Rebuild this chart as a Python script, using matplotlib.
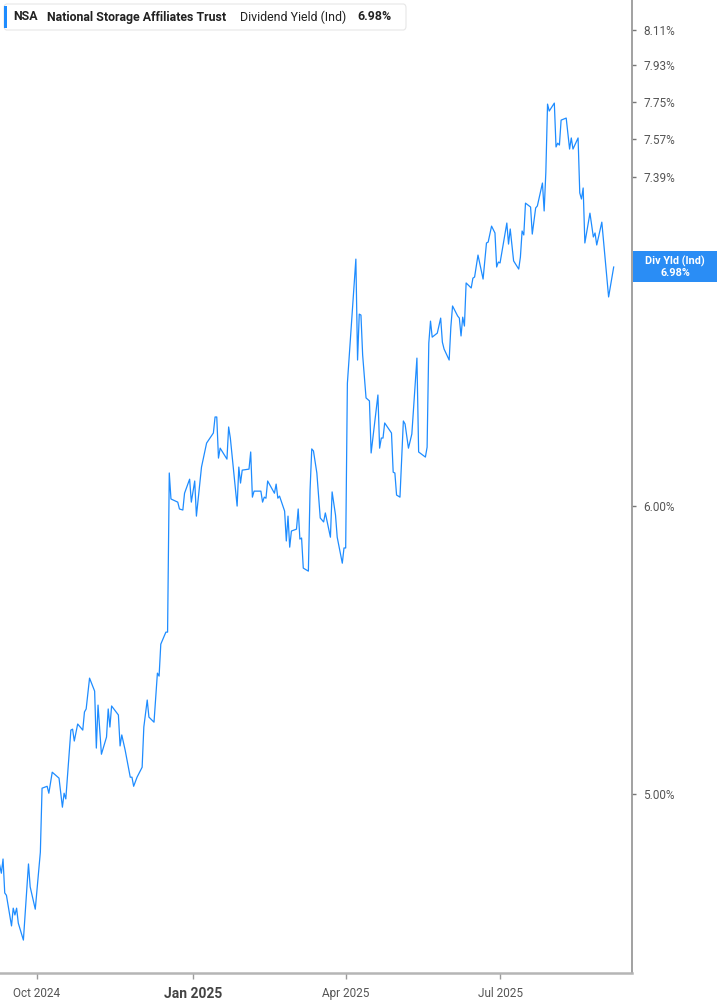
import matplotlib
matplotlib.use('Agg')
import matplotlib.pyplot as plt
from matplotlib.patches import FancyBboxPatch, Rectangle
from matplotlib.ticker import NullLocator
import pandas as pd

# dividend yield (%)
dates = """
2024-09-09 2024-09-10 2024-09-11 2024-09-12 2024-09-13 2024-09-16 2024-09-17 2024-09-18
2024-09-19 2024-09-20 2024-09-23 2024-09-26 2024-09-27 2024-09-30 2024-10-03 2024-10-04
2024-10-07 2024-10-08 2024-10-10 2024-10-14 2024-10-16 2024-10-17 2024-10-18 2024-10-21
2024-10-22 2024-10-23 2024-10-25 2024-10-28 2024-10-29 2024-10-30 2024-11-01 2024-11-04
2024-11-05 2024-11-06 2024-11-08 2024-11-11 2024-11-12 2024-11-13 2024-11-14 2024-11-18
2024-11-19 2024-11-20 2024-11-22 2024-11-25 2024-11-26 2024-11-27 2024-11-29 2024-12-02
2024-12-03 2024-12-05 2024-12-06 2024-12-09 2024-12-11 2024-12-12 2024-12-13 2024-12-16
2024-12-17 2024-12-18 2024-12-19 2024-12-23 2024-12-24 2024-12-26 2024-12-27 2024-12-30
2024-12-31 2025-01-02 2025-01-03 2025-01-06 2025-01-09 2025-01-13 2025-01-14 2025-01-15
2025-01-16 2025-01-17 2025-01-21 2025-01-22 2025-01-23 2025-01-27 2025-01-28 2025-01-29
2025-01-30 2025-02-03 2025-02-04 2025-02-05 2025-02-06 2025-02-10 2025-02-11 2025-02-12
2025-02-13 2025-02-14 2025-02-18 2025-02-19 2025-02-20 2025-02-21 2025-02-24 2025-02-25
2025-02-26 2025-02-27 2025-02-28 2025-03-03 2025-03-04 2025-03-05 2025-03-06 2025-03-07
2025-03-10 2025-03-11 2025-03-12 2025-03-13 2025-03-15 2025-03-17 2025-03-19 2025-03-20
2025-03-23 2025-03-24 2025-03-26 2025-03-27 2025-03-30 2025-03-31 2025-04-01 2025-04-02
2025-04-04 2025-04-07 2025-04-08 2025-04-09 2025-04-10 2025-04-11 2025-04-12 2025-04-13
2025-04-15 2025-04-16 2025-04-20 2025-04-21 2025-04-22 2025-04-23 2025-04-24 2025-04-26
2025-04-28 2025-04-29 2025-04-30 2025-05-01 2025-05-03 2025-05-05 2025-05-06 2025-05-08
2025-05-10 2025-05-13 2025-05-14 2025-05-18 2025-05-19 2025-05-20 2025-05-21 2025-05-22
2025-05-25 2025-05-27 2025-05-28 2025-05-29 2025-06-01 2025-06-02 2025-06-03 2025-06-06
2025-06-07 2025-06-08 2025-06-09 2025-06-10 2025-06-11 2025-06-14 2025-06-15 2025-06-16
2025-06-18 2025-06-21 2025-06-23 2025-06-24 2025-06-26 2025-06-28 2025-06-29 2025-06-30
2025-07-01 2025-07-05 2025-07-06 2025-07-07 2025-07-09 2025-07-12 2025-07-13 2025-07-14
2025-07-15 2025-07-16 2025-07-19 2025-07-20 2025-07-22 2025-07-23 2025-07-26 2025-07-27
2025-07-28 2025-07-29 2025-07-30 2025-08-02 2025-08-03 2025-08-04 2025-08-05 2025-08-06
2025-08-09 2025-08-11 2025-08-12 2025-08-13 2025-08-16 2025-08-17 2025-08-18 2025-08-19
2025-08-20 2025-08-23 2025-08-25 2025-08-26 2025-08-27 2025-08-30 2025-09-03 2025-09-06
""".split()

yields = [
    4.781, 4.756, 4.799, 4.697, 4.690, 4.600, 4.652, 4.632,
    4.652, 4.608, 4.559, 4.784, 4.715, 4.649, 4.820, 5.019,
    5.025, 5.003, 5.070, 5.051, 4.959, 5.003, 4.985, 5.207,
    5.210, 5.171, 5.227, 5.207, 5.267, 5.277, 5.381, 5.337,
    5.148, 5.290, 5.128, 5.184, 5.277, 5.217, 5.287, 5.257,
    5.155, 5.191, 5.141, 5.054, 5.054, 5.025, 5.054, 5.086,
    5.217, 5.307, 5.250, 5.233, 5.398, 5.388, 5.498, 5.540,
    5.540, 6.127, 6.027, 6.015, 5.989, 5.985, 6.049, 6.103,
    6.015, 6.096, 5.962, 6.150, 6.244, 6.284, 6.348, 6.348,
    6.185, 6.224, 6.181, 6.308, 6.264, 6.000, 6.150, 6.088,
    6.138, 6.142, 6.209, 6.034, 6.057, 6.057, 6.015, 6.034,
    6.030, 6.096, 6.049, 6.084, 6.030, 6.038, 5.981, 5.869,
    5.962, 5.846, 5.906, 5.913, 5.989, 5.876, 5.880, 5.769,
    5.758, 6.061, 6.221, 6.213, 6.127, 5.955, 5.940, 5.974,
    5.883, 6.054, 5.966, 5.883, 5.787, 5.843, 5.843, 6.485,
    6.694, 7.015, 6.581, 6.775, 6.771, 6.602, 6.510, 6.425,
    6.413, 6.205, 6.437, 6.224, 6.264, 6.264, 6.324, 6.304,
    6.284, 6.130, 6.127, 6.042, 6.034, 6.332, 6.320, 6.224,
    6.280, 6.589, 6.209, 6.189, 6.228, 6.652, 6.745, 6.677,
    6.694, 6.758, 6.656, 6.627, 6.581, 6.720, 6.810, 6.767,
    6.758, 6.682, 6.762, 6.724, 6.910, 6.888, 6.931, 6.936,
    7.033, 6.927, 7.087, 7.091, 7.163, 7.132, 6.980, 7.002,
    6.998, 7.177, 7.082, 7.150, 7.007, 6.971, 7.024, 7.141,
    7.123, 7.268, 7.250, 7.127, 7.246, 7.255, 7.361, 7.232,
    7.412, 7.738, 7.704, 7.743, 7.531, 7.549, 7.540, 7.660,
    7.670, 7.521, 7.574, 7.521, 7.574, 7.315, 7.287, 7.338,
    7.087, 7.222, 7.114, 7.132, 7.078, 7.181, 6.849, 6.980,
]

ytick_vals = [5.00, 6.00, 7.39, 7.57, 7.75, 7.93, 8.11]
xtick_dates = ['2024-10-01', '2025-01-01', '2025-04-01', '2025-07-01']
xtick_labels = ['Oct 2024', 'Jan 2025', 'Apr 2025', 'Jul 2025']

ticker = 'NSA'
company = 'National Storage Affiliates Trust'
metric = 'Dividend Yield (Ind)'
last_label = 'Div Yld (Ind)'

W, H = 717, 1005
blue = '#1e8cff'
grey = '#9a9a9a'

plt.rcParams['font.family'] = ['Roboto', 'DejaVu Sans']

fig = plt.figure(figsize=(W / 100, H / 100), dpi=100)
ax = fig.add_axes([0, 32 / H, 632 / W, 973 / H])

x = pd.to_datetime(dates)
ax.plot(x, yields, color=blue, lw=0.9)

ax.set_yscale('log')
ax.set_ylim(4.465, 8.265)
ax.set_xlim(pd.Timestamp('2024-09-09 05:00'), pd.Timestamp('2025-09-16 19:00'))

ax.yaxis.tick_right()
ax.yaxis.set_minor_locator(NullLocator())
ax.set_yticks(ytick_vals)
ax.set_yticklabels([f'{v:.2f}%' for v in ytick_vals])
ax.tick_params(axis='y', direction='out', length=3, width=1, color='#777777',
               labelcolor='#555555', labelsize=8.5, pad=5)

ax.set_xticks(pd.to_datetime(xtick_dates))
ax.set_xticklabels(xtick_labels)
ax.tick_params(axis='x', direction='out', length=4, width=1, color=grey,
               labelcolor='#555555', labelsize=8.5, pad=6)
for lab in ax.get_xticklabels():
    lab.set_family(['Liberation Sans Narrow', 'Roboto'])
    if lab.get_text() == 'Jan 2025':
        lab.set_fontweight('bold')
        lab.set_fontsize(10)
        lab.set_color('#444444')

for s in ['left', 'top']:
    ax.spines[s].set_visible(False)
ax.spines['right'].set_color(grey)
ax.spines['right'].set_linewidth(1.3)
ax.spines['bottom'].set_color('#b5b5b5')
ax.spines['bottom'].set_linewidth(1.8)


def fx(px):
    return px / W


def fy(py):
    return 1 - py / H


# header box
fig.patches.append(FancyBboxPatch((fx(4), fy(30)), fx(402), 26 / H,
                                  boxstyle='round,pad=0,rounding_size=0.004',
                                  transform=fig.transFigure, fc='white',
                                  ec='#e6e6e6', lw=0.8, zorder=5))
fig.patches.append(Rectangle((fx(4), fy(28)), fx(3), 22 / H, transform=fig.transFigure,
                             fc=blue, ec='none', zorder=6))
hy = fy(17)
hfs = 8.9
fig.text(fx(13), hy, ticker, fontsize=hfs, fontweight='bold', color='#222222', va='center', zorder=7)
fig.text(fx(47), hy, company, fontsize=hfs, fontweight='bold', color='#222222', va='center', zorder=7)
fig.text(fx(240), hy, metric, fontsize=hfs, color='#222222', va='center', zorder=7)
fig.text(fx(357), hy, f'{yields[-1]:.2f}%', fontsize=hfs, fontweight='bold', color='#222222',
         va='center', zorder=7)

# last value tag on the axis
fig.patches.append(Rectangle((fx(633), fy(282)), fx(84), 31 / H, transform=fig.transFigure,
                             fc='#2a8df5', ec='none', zorder=6))
fig.text(fx(675), fy(261), last_label, fontsize=7.8, fontweight='bold', color='white',
         ha='center', va='center', zorder=7)
fig.text(fx(675), fy(273), f'{yields[-1]:.2f}%', fontsize=7.8, fontweight='bold', color='white',
         ha='center', va='center', zorder=7)

fig.savefig('out.png', dpi=100)
